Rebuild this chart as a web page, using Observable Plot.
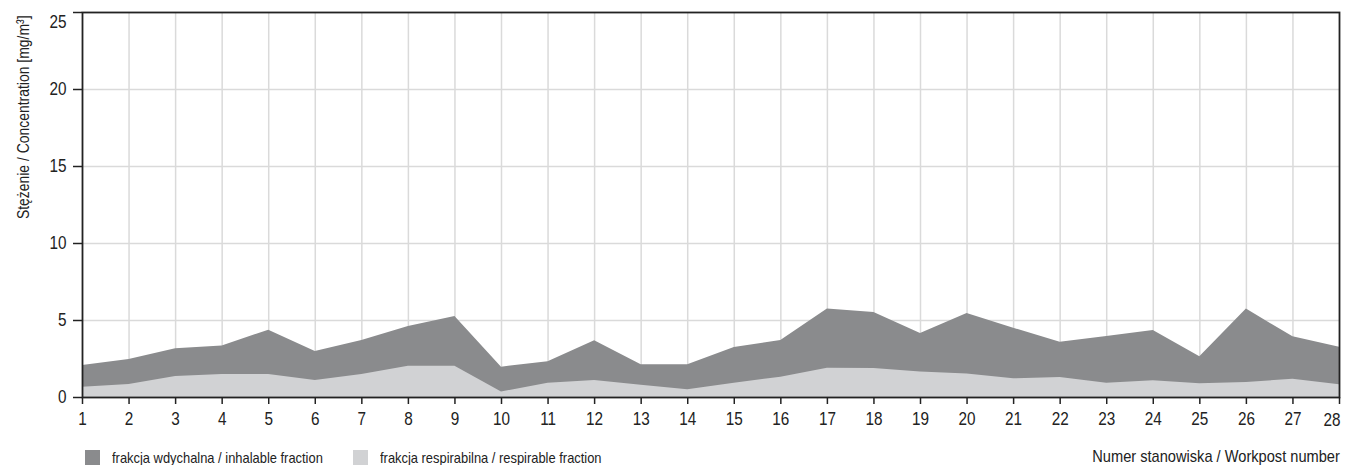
<!DOCTYPE html>
<html><head><meta charset="utf-8">
<script src="https://cdn.jsdelivr.net/npm/d3@7"></script>
<script src="https://cdn.jsdelivr.net/npm/@observablehq/plot@0.6"></script>
<style>
body{margin:0;background:#fff;font-family:"Liberation Sans",Arial,sans-serif;color:#222;}
#wrap{position:relative;width:1345px;height:465px;overflow:hidden;}
#foot{position:absolute;left:0;top:440px;width:1345px;height:25px;}
.sw{position:absolute;top:10px;width:15px;height:15px;}
.lt{position:absolute;top:10px;font-size:15px;line-height:15px;white-space:nowrap;transform:scaleX(0.86);transform-origin:left center;}
#xlab{position:absolute;right:5px;top:8px;font-size:17px;line-height:17px;white-space:nowrap;transform:scaleX(0.86);transform-origin:right center;}
</style></head><body>
<div id="wrap"><div id="chart"></div><div id="foot"></div></div>
<script>
const workposts = [1,2,3,4,5,6,7,8,9,10,11,12,13,14,15,16,17,18,19,20,21,22,23,24,25,26,27,28];
const inhalable = [2.08,2.47,3.16,3.35,4.37,2.99,3.70,4.61,5.26,1.97,2.32,3.68,2.12,2.12,3.25,3.70,5.74,5.52,4.16,5.45,4.50,3.59,3.96,4.35,2.64,5.74,3.94,3.27];
const respirable = [0.67,0.84,1.36,1.49,1.49,1.10,1.49,2.03,2.03,0.36,0.93,1.10,0.80,0.50,0.93,1.32,1.90,1.88,1.65,1.52,1.21,1.30,0.93,1.08,0.89,0.97,1.19,0.82];
const yTicks = [0,5,10,15,20,25];
const seriesNames = ["frakcja wdychalna / inhalable fraction","frakcja respirabilna / respirable fraction"];
const seriesColors = ["#8a8b8d","#d1d2d4"];
const yLabel = "Stężenie / Concentration [mg/m³]";
const xLabel = "Numer stanowiska / Workpost number";

const data = workposts.map((w,i)=>({w, inh: inhalable[i], resp: respirable[i]}));
const font = '"Liberation Sans",Arial,sans-serif';
const yMax = yTicks[yTicks.length-1];
const xFirst = workposts[0], xLast = workposts[workposts.length-1];

const chart = Plot.plot({
  width:1345, height:440,
  marginLeft:82, marginRight:6, marginTop:12, marginBottom:43,
  style:{fontFamily:font, fontSize:"18px", color:"#222", background:"#fff"},
  x:{domain:[xFirst, xLast]},
  y:{domain:[0, yMax]},
  marks:[
    Plot.gridY(yTicks.slice(1,-1), {stroke:"#dadada", strokeOpacity:1, strokeWidth:1.5}),
    Plot.gridX(workposts.slice(1,-1), {stroke:"#dadada", strokeOpacity:1, strokeWidth:1.5}),
    Plot.areaY(data, {x:"w", y:"inh", fill:seriesColors[0]}),
    Plot.areaY(data, {x:"w", y:"resp", fill:seriesColors[1]}),
    Plot.axisY(yTicks, {tickSize:9, tickPadding:7, strokeWidth:1.5, label:null, tickFormat:d => d === yMax ? "" : String(d)}),
    Plot.text([yMax], {x:xFirst, y:d=>d, text:d=>String(d), textAnchor:"end", dx:-16, dy:10, fontSize:18}),
    Plot.axisX(workposts, {tickSize:7, tickPadding:8, strokeWidth:1.5, label:null, tickFormat:d => d === xLast ? "" : String(d)}),
    Plot.text([xLast], {x:d=>d, frameAnchor:"bottom", text:d=>String(d), textAnchor:"end", dy:28, dx:1, fontSize:18}),
    Plot.frame({stroke:"#222", strokeWidth:1.8}),
    Plot.text([yLabel], {frameAnchor:"top-left", dx:-66, dy:3, rotate:-90, textAnchor:"end", fontSize:17})
  ]
});
// condensed look: squeeze each text horizontally around its own anchor
d3.select(chart).selectAll("text").each(function(){
  const k = this.textContent === yLabel ? 0.82 : 0.85;
  const t = this.getAttribute("transform") || "";
  this.setAttribute("transform", (t + ` scale(${k},1)`).trim());
});
document.getElementById("chart").appendChild(chart);

const foot = document.getElementById("foot");
const swLefts = [85, 353];
seriesNames.forEach((n,i)=>{
  const sw = document.createElement("div");
  sw.className = "sw"; sw.style.left = swLefts[i] + "px"; sw.style.background = seriesColors[i];
  foot.appendChild(sw);
  const lt = document.createElement("div");
  lt.className = "lt"; lt.style.left = (swLefts[i] + 27) + "px"; lt.textContent = n;
  foot.appendChild(lt);
});
const xl = document.createElement("div");
xl.id = "xlab"; xl.textContent = xLabel;
foot.appendChild(xl);
</script>
</body></html>
